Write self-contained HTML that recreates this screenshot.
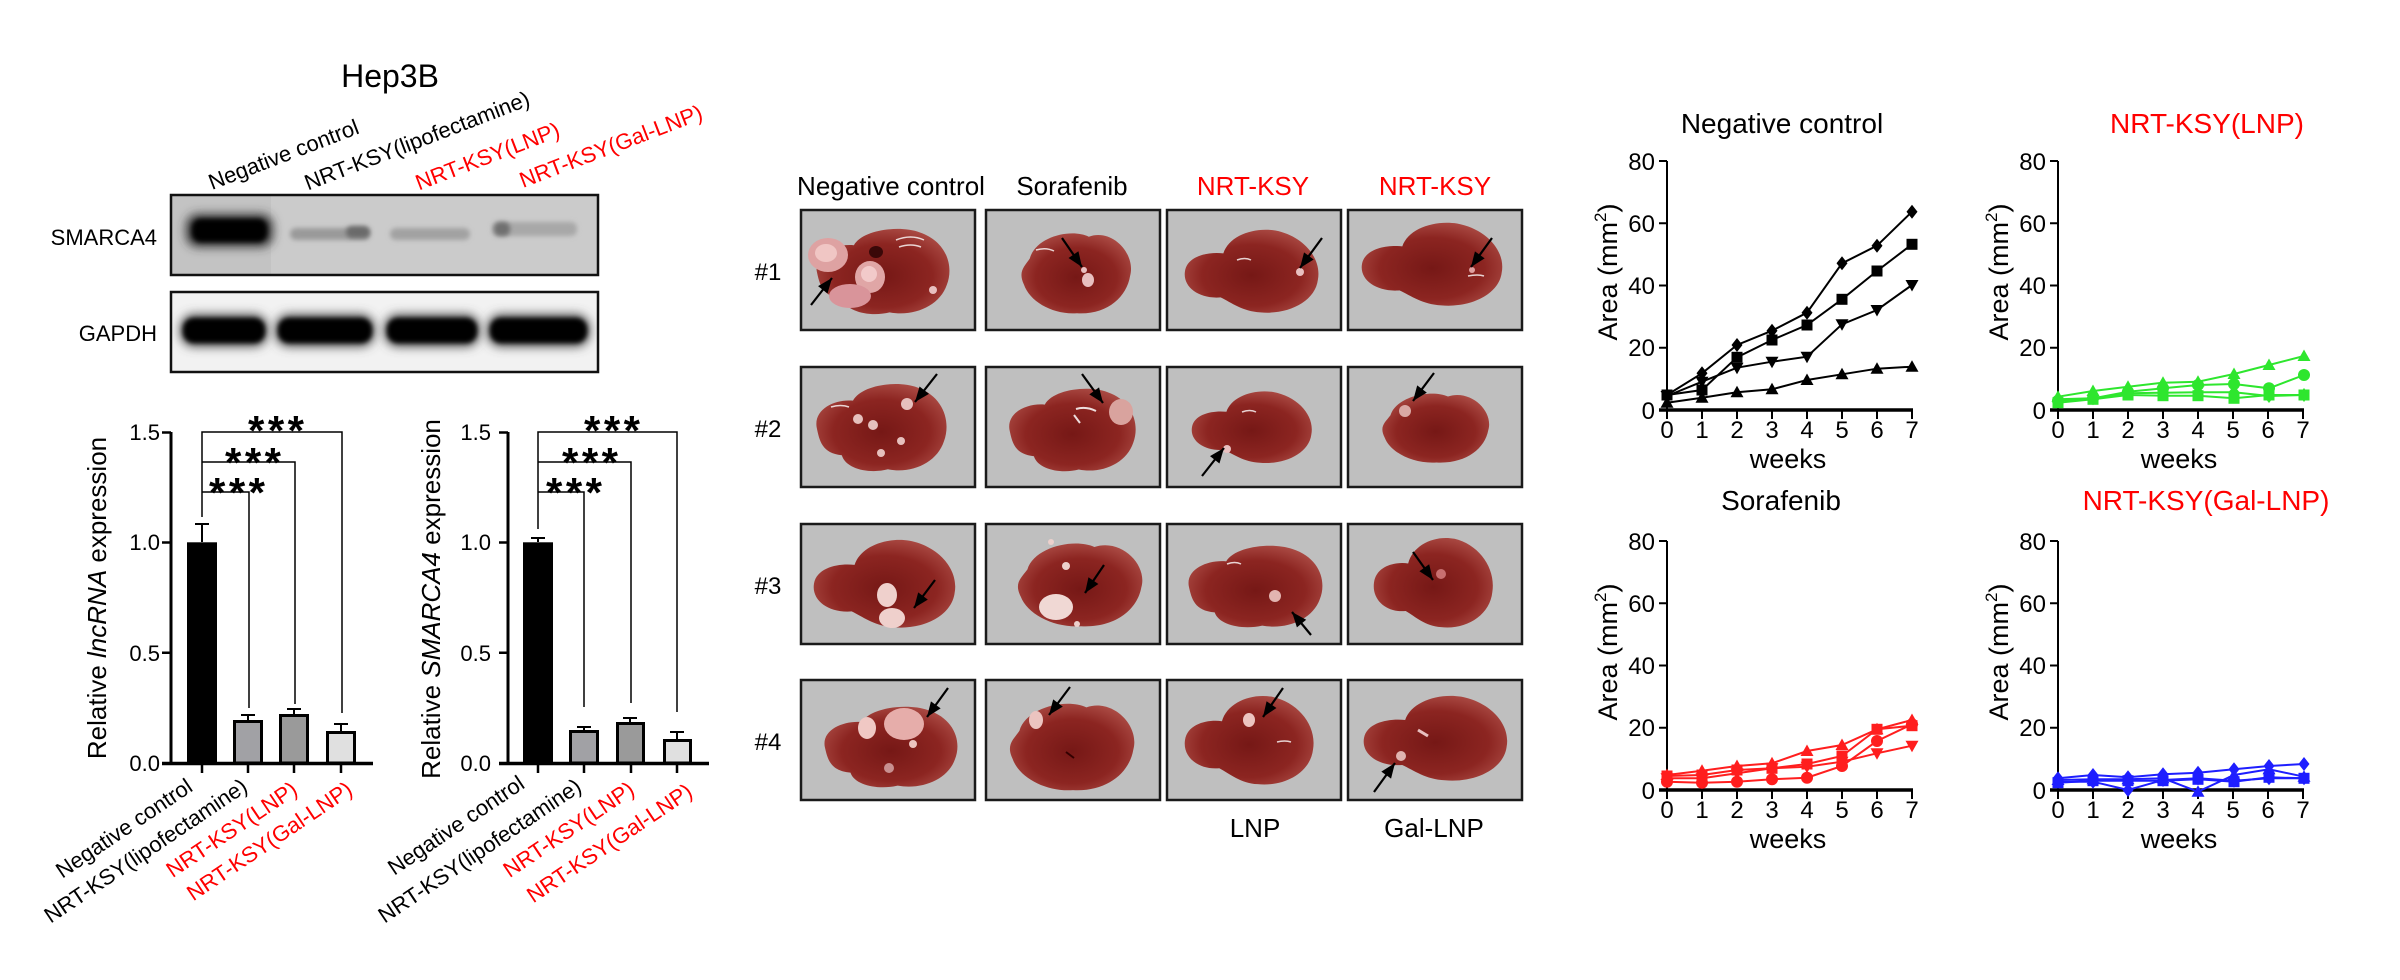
<!DOCTYPE html>
<html><head><meta charset="utf-8">
<style>
html,body{margin:0;padding:0;background:#fff;}
svg{display:block;}
text{font-family:"Liberation Sans",Arial,sans-serif;}
</style></head><body>
<svg width="2400" height="980" viewBox="0 0 2400 980" xmlns="http://www.w3.org/2000/svg">
<defs>
 <filter id="bl2" x="-30%" y="-60%" width="160%" height="220%"><feGaussianBlur stdDeviation="2.5"/></filter>
 <filter id="bl5" x="-30%" y="-80%" width="160%" height="260%"><feGaussianBlur stdDeviation="5"/></filter>
 <clipPath id="cb1"><rect x="171" y="195" width="427" height="80"/></clipPath>
 <clipPath id="cb2"><rect x="171" y="292" width="427" height="80"/></clipPath>
 <radialGradient id="liv" cx="0.5" cy="0.55" r="0.62">
   <stop offset="0" stop-color="#761816"/><stop offset="0.6" stop-color="#8c2521"/><stop offset="1" stop-color="#b0514a"/>
 </radialGradient>
 <path id="S1" d="M0.04,0.5 C0.02,0.3 0.18,0.2 0.3,0.22 C0.36,0.05 0.62,0.0 0.76,0.08 C0.95,0.18 1.0,0.45 0.95,0.65 C0.9,0.88 0.72,1.0 0.55,0.95 C0.42,1.0 0.25,0.95 0.22,0.8 C0.08,0.78 0.06,0.65 0.04,0.5Z"/>
 <path id="S2" d="M0.1,0.35 C0.15,0.1 0.45,0.0 0.6,0.1 C0.8,0.0 1.0,0.3 0.95,0.55 C0.92,0.8 0.75,1.0 0.5,0.98 C0.3,1.0 0.1,0.85 0.05,0.65 C0.0,0.5 0.05,0.45 0.1,0.35Z"/>
 <path id="S3" d="M0.0,0.5 C0.02,0.32 0.18,0.28 0.28,0.3 C0.32,0.1 0.5,0.0 0.66,0.04 C0.86,0.1 1.0,0.35 0.97,0.6 C0.95,0.85 0.75,1.0 0.55,0.97 C0.42,0.96 0.34,0.86 0.26,0.8 C0.1,0.82 -0.02,0.68 0.0,0.5Z"/>
 <marker id="ah" markerUnits="userSpaceOnUse" markerWidth="16" markerHeight="12" refX="15" refY="6" orient="auto" overflow="visible"><path d="M0,0L15,6L0,12z" fill="#000"/></marker>
 <marker id="Kdi" markerUnits="userSpaceOnUse" markerWidth="20" markerHeight="20" refX="10" refY="10" overflow="visible"><path d="M10,3L15.5,10L10,17L4.5,10z" fill="#000"/></marker>
 <marker id="Ksq" markerUnits="userSpaceOnUse" markerWidth="20" markerHeight="20" refX="10" refY="10" overflow="visible"><path d="M4.5,4.5h11v11h-11z" fill="#000"/></marker>
 <marker id="Kut" markerUnits="userSpaceOnUse" markerWidth="20" markerHeight="20" refX="10" refY="10" overflow="visible"><path d="M10,3.5L16.5,15L3.5,15z" fill="#000"/></marker>
 <marker id="Kdt" markerUnits="userSpaceOnUse" markerWidth="20" markerHeight="20" refX="10" refY="10" overflow="visible"><path d="M10,16.5L16.5,5L3.5,5z" fill="#000"/></marker>
 <marker id="Gdi" markerUnits="userSpaceOnUse" markerWidth="20" markerHeight="20" refX="10" refY="10" overflow="visible"><path d="M10,3L15.5,10L10,17L4.5,10z" fill="#2ee62e"/></marker>
 <marker id="Gsq" markerUnits="userSpaceOnUse" markerWidth="20" markerHeight="20" refX="10" refY="10" overflow="visible"><path d="M4.5,4.5h11v11h-11z" fill="#2ee62e"/></marker>
 <marker id="Gut" markerUnits="userSpaceOnUse" markerWidth="20" markerHeight="20" refX="10" refY="10" overflow="visible"><path d="M10,3.5L16.5,15L3.5,15z" fill="#2ee62e"/></marker>
 <marker id="Gci" markerUnits="userSpaceOnUse" markerWidth="20" markerHeight="20" refX="10" refY="10" overflow="visible"><circle cx="10" cy="10" r="6" fill="#2ee62e"/></marker>
 <marker id="Rut" markerUnits="userSpaceOnUse" markerWidth="20" markerHeight="20" refX="10" refY="10" overflow="visible"><path d="M10,3.5L16.5,15L3.5,15z" fill="#ff1e1e"/></marker>
 <marker id="Rsq" markerUnits="userSpaceOnUse" markerWidth="20" markerHeight="20" refX="10" refY="10" overflow="visible"><path d="M4.5,4.5h11v11h-11z" fill="#ff1e1e"/></marker>
 <marker id="Rci" markerUnits="userSpaceOnUse" markerWidth="20" markerHeight="20" refX="10" refY="10" overflow="visible"><circle cx="10" cy="10" r="6" fill="#ff1e1e"/></marker>
 <marker id="Rdt" markerUnits="userSpaceOnUse" markerWidth="20" markerHeight="20" refX="10" refY="10" overflow="visible"><path d="M10,16.5L16.5,5L3.5,5z" fill="#ff1e1e"/></marker>
 <marker id="Bdi" markerUnits="userSpaceOnUse" markerWidth="20" markerHeight="20" refX="10" refY="10" overflow="visible"><path d="M10,3L15.5,10L10,17L4.5,10z" fill="#1e1eff"/></marker>
 <marker id="Bsq" markerUnits="userSpaceOnUse" markerWidth="20" markerHeight="20" refX="10" refY="10" overflow="visible"><path d="M4.5,4.5h11v11h-11z" fill="#1e1eff"/></marker>
 <marker id="But" markerUnits="userSpaceOnUse" markerWidth="20" markerHeight="20" refX="10" refY="10" overflow="visible"><path d="M10,3.5L16.5,15L3.5,15z" fill="#1e1eff"/></marker>
</defs>
<rect width="2400" height="980" fill="#fff"/>

<!-- ================= WESTERN BLOT ================= -->
<text x="390" y="87" font-size="32" text-anchor="middle">Hep3B</text>
<text font-size="22" transform="translate(212,190) rotate(-21)">Negative control</text>
<text font-size="22" transform="translate(308,190.5) rotate(-21)">NRT-KSY(lipofectamine)</text>
<text font-size="22" fill="#ff0000" transform="translate(419,190.5) rotate(-21)">NRT-KSY(LNP)</text>
<text font-size="22" fill="#ff0000" transform="translate(523,188) rotate(-21)">NRT-KSY(Gal-LNP)</text>

<text x="157" y="245" font-size="22" text-anchor="end">SMARCA4</text>
<text x="157" y="341" font-size="22" text-anchor="end">GAPDH</text>

<rect x="171" y="195" width="427" height="80" fill="#cbcbcb"/>
<g clip-path="url(#cb1)">
 <rect x="171" y="195" width="100" height="80" fill="#c3c3c3"/>
 <rect x="186" y="214" width="87" height="33" rx="12" fill="#333" filter="url(#bl5)"/>
 <rect x="192" y="219" width="75" height="23" rx="9" fill="#000" filter="url(#bl2)"/>
 <rect x="290" y="228" width="80" height="12" rx="6" fill="#9a9a9a" filter="url(#bl2)"/>
 <rect x="346" y="226" width="24" height="12" rx="6" fill="#6a6a6a" filter="url(#bl2)"/>
 <rect x="390" y="228" width="80" height="12" rx="6" fill="#a2a2a2" filter="url(#bl2)"/>
 <rect x="492" y="222" width="85" height="14" rx="6" fill="#a8a8a8" filter="url(#bl2)"/>
 <rect x="494" y="222" width="16" height="14" rx="6" fill="#707070" filter="url(#bl2)"/>
</g>
<rect x="171" y="195" width="427" height="80" fill="none" stroke="#111" stroke-width="2.5"/>

<rect x="171" y="292" width="427" height="80" fill="#f2f2f2"/>
<g clip-path="url(#cb2)">
 <rect x="180" y="314" width="88" height="33" rx="14" fill="#555" filter="url(#bl5)"/>
 <rect x="275" y="314" width="100" height="33" rx="14" fill="#555" filter="url(#bl5)"/>
 <rect x="384" y="314" width="96" height="33" rx="14" fill="#555" filter="url(#bl5)"/>
 <rect x="487" y="314" width="103" height="33" rx="14" fill="#555" filter="url(#bl5)"/>
 <rect x="183" y="318" width="82" height="25" rx="11" fill="#000" filter="url(#bl2)"/>
 <rect x="278" y="318" width="94" height="25" rx="11" fill="#000" filter="url(#bl2)"/>
 <rect x="387" y="318" width="90" height="25" rx="11" fill="#000" filter="url(#bl2)"/>
 <rect x="490" y="318" width="97" height="25" rx="11" fill="#000" filter="url(#bl2)"/>
</g>
<rect x="171" y="292" width="427" height="80" fill="none" stroke="#111" stroke-width="2.5"/>

<!-- ================= BAR CHART 1 ================= -->
<g font-size="22" text-anchor="end">
 <text x="160" y="440">1.5</text><text x="160" y="550">1.0</text><text x="160" y="661">0.5</text><text x="160" y="771">0.0</text>
</g>
<text font-size="26" text-anchor="middle" transform="translate(106,598) rotate(-90)">Relative <tspan font-style="italic">lncRNA</tspan> expression</text>
<g stroke="#000" fill="none">
 <path d="M171,432V764" stroke-width="3"/>
 <path d="M162,432.5H171M162,542.5H171M162,652.7H171" stroke-width="2.5"/>
 <path d="M162,763.5H373" stroke-width="3.5"/>
 <path d="M202,763V773M248,763V773M294,763V773M341,763V773" stroke-width="2.5"/>
</g>
<rect x="188.5" y="543.8" width="27" height="219" fill="#000" stroke="#000" stroke-width="3"/>
<rect x="234.5" y="721.5" width="27" height="41.5" fill="#a1a1a5" stroke="#000" stroke-width="3"/>
<rect x="280.5" y="715.5" width="27" height="47.5" fill="#9a9a9a" stroke="#000" stroke-width="3"/>
<rect x="327.5" y="732.5" width="27" height="30.5" fill="#e0e0e0" stroke="#000" stroke-width="3"/>
<g stroke="#000" stroke-width="2" fill="none">
 <path d="M202,542V524M195,524H209"/>
 <path d="M248,720V715M241,715H255"/>
 <path d="M294,714V709M287,709H301"/>
 <path d="M341,731V724M334,724H348"/>
</g>
<g stroke="#000" stroke-width="1.5" fill="none">
 <path d="M202,517V432H342V713"/>
 <path d="M202,462H295V704"/>
 <path d="M202,492H249V708"/>
</g>
<g font-size="42" font-weight="bold" text-anchor="middle">
 <text x="276" y="445" textLength="56" lengthAdjust="spacing">***</text>
 <text x="253" y="477" textLength="56" lengthAdjust="spacing">***</text>
 <text x="237" y="507" textLength="56" lengthAdjust="spacing">***</text>
</g>
<g font-size="22" text-anchor="end">
 <text transform="translate(194,790) rotate(-34)">Negative control</text>
 <text transform="translate(249,790) rotate(-34)">NRT-KSY(lipofectamine)</text>
 <text fill="#ff0000" transform="translate(299,793) rotate(-34)">NRT-KSY(LNP)</text>
 <text fill="#ff0000" transform="translate(354,793) rotate(-34)">NRT-KSY(Gal-LNP)</text>
</g>

<!-- ================= BAR CHART 2 ================= -->
<g font-size="22" text-anchor="end">
 <text x="491" y="440">1.5</text><text x="491" y="550">1.0</text><text x="491" y="661">0.5</text><text x="491" y="771">0.0</text>
</g>
<text font-size="26" text-anchor="middle" transform="translate(440,599) rotate(-90)">Relative <tspan font-style="italic">SMARCA4</tspan> expression</text>
<g stroke="#000" fill="none">
 <path d="M508,432V764" stroke-width="3"/>
 <path d="M499,432.5H508M499,542.5H508M499,652.7H508" stroke-width="2.5"/>
 <path d="M499,763.5H709" stroke-width="3.5"/>
 <path d="M538,763V773M584,763V773M631,763V773M677,763V773" stroke-width="2.5"/>
</g>
<rect x="524.5" y="543.8" width="27" height="219" fill="#000" stroke="#000" stroke-width="3"/>
<rect x="570.5" y="731.5" width="27" height="31.5" fill="#a1a1a5" stroke="#000" stroke-width="3"/>
<rect x="617.5" y="723.5" width="26" height="39.5" fill="#9a9a9a" stroke="#000" stroke-width="3"/>
<rect x="664.5" y="740.5" width="26" height="22.5" fill="#e0e0e0" stroke="#000" stroke-width="3"/>
<g stroke="#000" stroke-width="2" fill="none">
 <path d="M538,542V538M531,538H545"/>
 <path d="M584,730V727M577,727H591"/>
 <path d="M630,722V718M623,718H637"/>
 <path d="M677,739V732M670,732H684"/>
</g>
<g stroke="#000" stroke-width="1.5" fill="none">
 <path d="M538,529V432H677V712"/>
 <path d="M538,462H631V703"/>
 <path d="M538,492H584V707"/>
</g>
<g font-size="42" font-weight="bold" text-anchor="middle">
 <text x="612" y="445" textLength="56" lengthAdjust="spacing">***</text>
 <text x="590" y="477" textLength="56" lengthAdjust="spacing">***</text>
 <text x="574" y="507" textLength="56" lengthAdjust="spacing">***</text>
</g>
<g font-size="22" text-anchor="end">
 <text transform="translate(526,787) rotate(-34)">Negative control</text>
 <text transform="translate(583,790) rotate(-34)">NRT-KSY(lipofectamine)</text>
 <text fill="#ff0000" transform="translate(636,793) rotate(-34)">NRT-KSY(LNP)</text>
 <text fill="#ff0000" transform="translate(694,795) rotate(-34)">NRT-KSY(Gal-LNP)</text>
</g>

<!-- ================= LIVER PHOTOS ================= -->
<g font-size="26" text-anchor="middle">
 <text x="891" y="195">Negative control</text>
 <text x="1072" y="195">Sorafenib</text>
 <text x="1253" y="195" fill="#ff0000">NRT-KSY</text>
 <text x="1435" y="195" fill="#ff0000">NRT-KSY</text>
 <text x="1255" y="837">LNP</text>
 <text x="1434" y="837">Gal-LNP</text>
</g>
<g font-size="24" text-anchor="middle">
 <text x="768" y="280">#1</text>
 <text x="768" y="437">#2</text>
 <text x="768" y="594">#3</text>
 <text x="768" y="750">#4</text>
</g>

<!-- Row 1 -->
<g transform="translate(801,210)">
 <rect width="174" height="120" fill="#bfbfbf" stroke="#1a1a1a" stroke-width="2.5"/>
 <use href="#S1" transform="translate(10,15) scale(143,92)" fill="url(#liv)"/>
 <ellipse cx="75" cy="42" rx="7" ry="6" fill="#3a0808"/>
 <ellipse cx="27" cy="45" rx="20" ry="17" fill="#dea2a2"/><ellipse cx="25" cy="43" rx="11" ry="9" fill="#f0c6c4"/>
 <ellipse cx="69" cy="67" rx="15" ry="16" fill="#e0a6a6"/><ellipse cx="68" cy="64" rx="8" ry="8" fill="#f2caca"/>
 <ellipse cx="49" cy="86" rx="21" ry="12" fill="#d9949a"/>
 <circle cx="132" cy="80" r="4" fill="#e8c0c0"/>
 <path d="M95,30q15,-6 28,0M98,37q12,-4 22,0" stroke="#fff" stroke-width="1.5" fill="none" opacity=".8"/>
 <line x1="10" y1="95" x2="31" y2="68" stroke="#000" stroke-width="2.2" marker-end="url(#ah)"/>
</g>
<g transform="translate(986,210)">
 <rect width="174" height="120" fill="#bfbfbf" stroke="#1a1a1a" stroke-width="2.5"/>
 <use href="#S2" transform="translate(32,18) scale(118,87)" fill="url(#liv)"/>
 <ellipse cx="102" cy="70" rx="6" ry="7" fill="#e8c0c0"/><circle cx="98" cy="60" r="3" fill="#e8c0c0"/>
 <path d="M50,40q10,-3 18,1" stroke="#fff" stroke-width="1.5" fill="none" opacity=".8"/>
 <line x1="76" y1="28" x2="96" y2="57" stroke="#000" stroke-width="2.2" marker-end="url(#ah)"/>
</g>
<g transform="translate(1167,210)">
 <rect width="174" height="120" fill="#bfbfbf" stroke="#1a1a1a" stroke-width="2.5"/>
 <use href="#S3" transform="translate(18,17) scale(137,88)" fill="url(#liv)"/>
 <circle cx="133" cy="62" r="4" fill="#e8c0c0"/>
 <path d="M70,50q8,-3 14,0" stroke="#fff" stroke-width="1.5" fill="none" opacity=".8"/>
 <line x1="155" y1="28" x2="133" y2="58" stroke="#000" stroke-width="2.2" marker-end="url(#ah)"/>
</g>
<g transform="translate(1348,210)">
 <rect width="174" height="120" fill="#bfbfbf" stroke="#1a1a1a" stroke-width="2.5"/>
 <use href="#S3" transform="translate(14,10) scale(144,88)" fill="url(#liv)"/>
 <circle cx="124" cy="60" r="3" fill="#e0a0a0"/>
 <path d="M120,66q10,-2 16,0" stroke="#fff" stroke-width="1.5" fill="none" opacity=".8"/>
 <line x1="144" y1="28" x2="123" y2="57" stroke="#000" stroke-width="2.2" marker-end="url(#ah)"/>
</g>
<!-- Row 2 -->
<g transform="translate(801,367)">
 <rect width="174" height="120" fill="#bfbfbf" stroke="#1a1a1a" stroke-width="2.5"/>
 <use href="#S1" transform="translate(10,13) scale(140,94)" fill="url(#liv)"/>
 <circle cx="57" cy="52" r="5" fill="#e6c0bd"/><circle cx="72" cy="58" r="5" fill="#e6c0bd"/>
 <circle cx="106" cy="37" r="6" fill="#e6c0bd"/><circle cx="100" cy="74" r="4" fill="#e6c0bd"/><circle cx="80" cy="86" r="4" fill="#e6c0bd"/>
 <path d="M30,40q10,-3 18,0" stroke="#fff" stroke-width="1.5" fill="none" opacity=".8"/>
 <line x1="136" y1="7" x2="114" y2="35" stroke="#000" stroke-width="2.2" marker-end="url(#ah)"/>
</g>
<g transform="translate(986,367)">
 <rect width="174" height="120" fill="#bfbfbf" stroke="#1a1a1a" stroke-width="2.5"/>
 <use href="#S1" transform="translate(18,18) scale(136,89)" fill="url(#liv)"/>
 <ellipse cx="135" cy="45" rx="12" ry="13" fill="#d9a39e"/>
 <path d="M90,42q10,-3 20,2M88,48l6,8" stroke="#fff" stroke-width="2" fill="none" opacity=".85"/>
 <line x1="96" y1="7" x2="117" y2="36" stroke="#000" stroke-width="2.2" marker-end="url(#ah)"/>
</g>
<g transform="translate(1167,367)">
 <rect width="174" height="120" fill="#bfbfbf" stroke="#1a1a1a" stroke-width="2.5"/>
 <use href="#S3" transform="translate(25,22) scale(123,76)" fill="url(#liv)"/>
 <circle cx="60" cy="82" r="4" fill="#e8c0c0"/>
 <path d="M75,45q8,-3 14,0" stroke="#fff" stroke-width="1.5" fill="none" opacity=".8"/>
 <line x1="35" y1="109" x2="57" y2="81" stroke="#000" stroke-width="2.2" marker-end="url(#ah)"/>
</g>
<g transform="translate(1348,367)">
 <rect width="174" height="120" fill="#bfbfbf" stroke="#1a1a1a" stroke-width="2.5"/>
 <use href="#S2" transform="translate(31,22) scale(115,75)" fill="url(#liv)"/>
 <circle cx="57" cy="44" r="6" fill="#d9a8a4"/>
 <line x1="86" y1="6" x2="65" y2="34" stroke="#000" stroke-width="2.2" marker-end="url(#ah)"/>
</g>
<!-- Row 3 -->
<g transform="translate(801,524)">
 <rect width="174" height="120" fill="#bfbfbf" stroke="#1a1a1a" stroke-width="2.5"/>
 <use href="#S3" transform="translate(13,13) scale(145,93)" fill="url(#liv)"/>
 <ellipse cx="86" cy="71" rx="10" ry="12" fill="#efd0cc"/>
 <ellipse cx="91" cy="94" rx="13" ry="10" fill="#efd0cc"/>
 <line x1="134" y1="56" x2="113" y2="84" stroke="#000" stroke-width="2.2" marker-end="url(#ah)"/>
</g>
<g transform="translate(986,524)">
 <rect width="174" height="120" fill="#bfbfbf" stroke="#1a1a1a" stroke-width="2.5"/>
 <use href="#S2" transform="translate(28,14) scale(134,90)" fill="url(#liv)"/>
 <ellipse cx="70" cy="83" rx="17" ry="13" fill="#f0d8d4"/>
 <circle cx="80" cy="42" r="4" fill="#ecd0cc"/><circle cx="65" cy="18" r="3" fill="#ecd0cc"/><circle cx="91" cy="100" r="3" fill="#ecd0cc"/>
 <line x1="118" y1="41" x2="99" y2="69" stroke="#000" stroke-width="2.2" marker-end="url(#ah)"/>
</g>
<g transform="translate(1167,524)">
 <rect width="174" height="120" fill="#bfbfbf" stroke="#1a1a1a" stroke-width="2.5"/>
 <use href="#S1" transform="translate(16,18) scale(144,88)" fill="url(#liv)"/>
 <circle cx="108" cy="72" r="6" fill="#e2b4b0"/>
 <path d="M60,40q8,-3 14,0" stroke="#fff" stroke-width="1.5" fill="none" opacity=".8"/>
 <line x1="144" y1="111" x2="125" y2="88" stroke="#000" stroke-width="2.2" marker-end="url(#ah)"/>
</g>
<g transform="translate(1348,524)">
 <rect width="174" height="120" fill="#bfbfbf" stroke="#1a1a1a" stroke-width="2.5"/>
 <use href="#S3" transform="translate(26,11) scale(122,95)" fill="url(#liv)"/>
 <circle cx="93" cy="50" r="5" fill="#c87070"/>
 <line x1="65" y1="28" x2="85" y2="56" stroke="#000" stroke-width="2.2" marker-end="url(#ah)"/>
</g>
<!-- Row 4 -->
<g transform="translate(801,680)">
 <rect width="174" height="120" fill="#bfbfbf" stroke="#1a1a1a" stroke-width="2.5"/>
 <use href="#S1" transform="translate(18,23) scale(143,87)" fill="url(#liv)"/>
 <ellipse cx="103" cy="44" rx="20" ry="16" fill="#e6adaa"/>
 <ellipse cx="66" cy="48" rx="9" ry="11" fill="#f0c8c4"/>
 <circle cx="112" cy="64" r="4" fill="#ecc4c0"/><circle cx="88" cy="88" r="5" fill="#c89090"/>
 <line x1="147" y1="8" x2="126" y2="37" stroke="#000" stroke-width="2.2" marker-end="url(#ah)"/>
</g>
<g transform="translate(986,680)">
 <rect width="174" height="120" fill="#bfbfbf" stroke="#1a1a1a" stroke-width="2.5"/>
 <use href="#S2" transform="translate(20,18) scale(134,94)" fill="url(#liv)"/>
 <ellipse cx="50" cy="40" rx="7" ry="9" fill="#ecc4c0"/>
 <path d="M80,72l8,6" stroke="#300" stroke-width="2"/>
 <line x1="84" y1="7" x2="63" y2="35" stroke="#000" stroke-width="2.2" marker-end="url(#ah)"/>
</g>
<g transform="translate(1167,680)">
 <rect width="174" height="120" fill="#bfbfbf" stroke="#1a1a1a" stroke-width="2.5"/>
 <use href="#S3" transform="translate(18,13) scale(132,94)" fill="url(#liv)"/>
 <ellipse cx="82" cy="40" rx="6" ry="7" fill="#ecc4c0"/>
 <path d="M110,62q8,-2 14,0" stroke="#fff" stroke-width="1.5" fill="none" opacity=".8"/>
 <line x1="116" y1="8" x2="96" y2="37" stroke="#000" stroke-width="2.2" marker-end="url(#ah)"/>
</g>
<g transform="translate(1348,680)">
 <rect width="174" height="120" fill="#bfbfbf" stroke="#1a1a1a" stroke-width="2.5"/>
 <use href="#S3" transform="translate(16,13) scale(147,90)" fill="url(#liv)"/>
 <circle cx="53" cy="76" r="5" fill="#e0b4b0"/>
 <path d="M70,50l10,6" stroke="#e8c0c0" stroke-width="3"/>
 <line x1="26" y1="112" x2="47" y2="83" stroke="#000" stroke-width="2.2" marker-end="url(#ah)"/>
</g>

<!-- ================= LINE CHARTS ================= -->
<g font-size="28" text-anchor="middle">
 <text x="1782" y="133">Negative control</text>
 <text x="2207" y="133" fill="#ff0000">NRT-KSY(LNP)</text>
 <text x="1781" y="510">Sorafenib</text>
 <text x="2206" y="510" fill="#ff0000">NRT-KSY(Gal-LNP)</text>
</g>

<g>
 <g stroke="#000" fill="none">
  <path d="M1667,161V411" stroke-width="2"/>
  <path d="M1659,161H1667M1659,223.3H1667M1659,285.5H1667M1659,347.8H1667" stroke-width="2"/>
  <path d="M1659,410H1913" stroke-width="3.5"/>
  <path d="M1667,410V419M1702,410V419M1737,410V419M1772,410V419M1807,410V419M1842,410V419M1877,410V419M1912,410V419" stroke-width="2"/>
 </g>
 <g font-size="24" text-anchor="end">
  <text x="1655" y="170">80</text><text x="1655" y="232">60</text><text x="1655" y="294">40</text><text x="1655" y="356">20</text><text x="1655" y="419">0</text>
 </g>
 <g font-size="24" text-anchor="middle">
  <text x="1667" y="438">0</text><text x="1702" y="438">1</text><text x="1737" y="438">2</text><text x="1772" y="438">3</text><text x="1807" y="438">4</text><text x="1842" y="438">5</text><text x="1877" y="438">6</text><text x="1912" y="438">7</text>
 </g>
 <text x="1788" y="468" font-size="27" text-anchor="middle">weeks</text>
 <text font-size="27" text-anchor="middle" transform="translate(1617,272) rotate(-90)">Area (mm<tspan font-size="17" dy="-11">2</tspan><tspan dy="11">)</tspan></text>
</g>
<g transform="translate(391,0)">
 <g stroke="#000" fill="none">
  <path d="M1667,161V411" stroke-width="2"/>
  <path d="M1659,161H1667M1659,223.3H1667M1659,285.5H1667M1659,347.8H1667" stroke-width="2"/>
  <path d="M1659,410H1913" stroke-width="3.5"/>
  <path d="M1667,410V419M1702,410V419M1737,410V419M1772,410V419M1807,410V419M1842,410V419M1877,410V419M1912,410V419" stroke-width="2"/>
 </g>
 <g font-size="24" text-anchor="end">
  <text x="1655" y="170">80</text><text x="1655" y="232">60</text><text x="1655" y="294">40</text><text x="1655" y="356">20</text><text x="1655" y="419">0</text>
 </g>
 <g font-size="24" text-anchor="middle">
  <text x="1667" y="438">0</text><text x="1702" y="438">1</text><text x="1737" y="438">2</text><text x="1772" y="438">3</text><text x="1807" y="438">4</text><text x="1842" y="438">5</text><text x="1877" y="438">6</text><text x="1912" y="438">7</text>
 </g>
 <text x="1788" y="468" font-size="27" text-anchor="middle">weeks</text>
 <text font-size="27" text-anchor="middle" transform="translate(1617,272) rotate(-90)">Area (mm<tspan font-size="17" dy="-11">2</tspan><tspan dy="11">)</tspan></text>
</g>
<g transform="translate(0,380)">
 <g stroke="#000" fill="none">
  <path d="M1667,161V411" stroke-width="2"/>
  <path d="M1659,161H1667M1659,223.3H1667M1659,285.5H1667M1659,347.8H1667" stroke-width="2"/>
  <path d="M1659,410H1913" stroke-width="3.5"/>
  <path d="M1667,410V419M1702,410V419M1737,410V419M1772,410V419M1807,410V419M1842,410V419M1877,410V419M1912,410V419" stroke-width="2"/>
 </g>
 <g font-size="24" text-anchor="end">
  <text x="1655" y="170">80</text><text x="1655" y="232">60</text><text x="1655" y="294">40</text><text x="1655" y="356">20</text><text x="1655" y="419">0</text>
 </g>
 <g font-size="24" text-anchor="middle">
  <text x="1667" y="438">0</text><text x="1702" y="438">1</text><text x="1737" y="438">2</text><text x="1772" y="438">3</text><text x="1807" y="438">4</text><text x="1842" y="438">5</text><text x="1877" y="438">6</text><text x="1912" y="438">7</text>
 </g>
 <text x="1788" y="468" font-size="27" text-anchor="middle">weeks</text>
 <text font-size="27" text-anchor="middle" transform="translate(1617,272) rotate(-90)">Area (mm<tspan font-size="17" dy="-11">2</tspan><tspan dy="11">)</tspan></text>
</g>
<g transform="translate(391,380)">
 <g stroke="#000" fill="none">
  <path d="M1667,161V411" stroke-width="2"/>
  <path d="M1659,161H1667M1659,223.3H1667M1659,285.5H1667M1659,347.8H1667" stroke-width="2"/>
  <path d="M1659,410H1913" stroke-width="3.5"/>
  <path d="M1667,410V419M1702,410V419M1737,410V419M1772,410V419M1807,410V419M1842,410V419M1877,410V419M1912,410V419" stroke-width="2"/>
 </g>
 <g font-size="24" text-anchor="end">
  <text x="1655" y="170">80</text><text x="1655" y="232">60</text><text x="1655" y="294">40</text><text x="1655" y="356">20</text><text x="1655" y="419">0</text>
 </g>
 <g font-size="24" text-anchor="middle">
  <text x="1667" y="438">0</text><text x="1702" y="438">1</text><text x="1737" y="438">2</text><text x="1772" y="438">3</text><text x="1807" y="438">4</text><text x="1842" y="438">5</text><text x="1877" y="438">6</text><text x="1912" y="438">7</text>
 </g>
 <text x="1788" y="468" font-size="27" text-anchor="middle">weeks</text>
 <text font-size="27" text-anchor="middle" transform="translate(1617,272) rotate(-90)">Area (mm<tspan font-size="17" dy="-11">2</tspan><tspan dy="11">)</tspan></text>
</g>

<g fill="none" stroke="#000" stroke-width="2">
 <polyline points="1667,402.7 1702,397.7 1737,392.3 1772,389.3 1807,380 1842,374.3 1877,368.7 1912,366.7" marker-start="url(#Kut)" marker-mid="url(#Kut)" marker-end="url(#Kut)"/>
 <polyline points="1667,396 1702,381.7 1737,367.7 1772,361.7 1807,356.7 1842,324.3 1877,310 1912,285" marker-start="url(#Kdt)" marker-mid="url(#Kdt)" marker-end="url(#Kdt)"/>
 <polyline points="1667,395 1702,390 1737,357.3 1772,340 1807,325 1842,299.3 1877,271 1912,244.3" marker-start="url(#Ksq)" marker-mid="url(#Ksq)" marker-end="url(#Ksq)"/>
 <polyline points="1667,395 1702,373.3 1737,345 1772,330.7 1807,312.7 1842,263.3 1877,245.7 1912,211.7" marker-start="url(#Kdi)" marker-mid="url(#Kdi)" marker-end="url(#Kdi)"/>
</g>
<g fill="none" stroke="#2ee62e" stroke-width="2">
 <polyline points="2058,402.7 2093,399.3 2128,395 2163,395.7 2198,395.7 2234,398.3 2269,395 2304,395" marker-start="url(#Gsq)" marker-mid="url(#Gsq)" marker-end="url(#Gsq)"/>
 <polyline points="2058,399.3 2093,398.3 2128,393.3 2163,392.7 2198,392.3 2234,392.3 2269,396 2304,395" marker-start="url(#Gdi)" marker-mid="url(#Gdi)" marker-end="url(#Gdi)"/>
 <polyline points="2058,400.7 2093,398.3 2128,391.7 2163,388.3 2198,385 2234,384 2269,388.3 2304,375" marker-start="url(#Gci)" marker-mid="url(#Gci)" marker-end="url(#Gci)"/>
 <polyline points="2058,396.7 2093,391 2128,386.7 2163,382.7 2198,381.7 2234,374 2269,365 2304,356" marker-start="url(#Gut)" marker-mid="url(#Gut)" marker-end="url(#Gut)"/>
</g>
<g fill="none" stroke="#ff1e1e" stroke-width="2">
 <polyline points="1667,781.7 1702,782.7 1737,781.7 1772,779.3 1807,777.7 1842,766 1877,741 1912,724.3" marker-start="url(#Rci)" marker-mid="url(#Rci)" marker-end="url(#Rci)"/>
 <polyline points="1667,778.3 1702,778.3 1737,773.3 1772,768.3 1807,766.7 1842,761.7 1877,753.3 1912,745.7" marker-start="url(#Rdt)" marker-mid="url(#Rdt)" marker-end="url(#Rdt)"/>
 <polyline points="1667,776 1702,775 1737,770 1772,768.3 1807,764 1842,756 1877,729.3 1912,725.7" marker-start="url(#Rsq)" marker-mid="url(#Rsq)" marker-end="url(#Rsq)"/>
 <polyline points="1667,775 1702,770.7 1737,766 1772,763.3 1807,751 1842,745 1877,729.3 1912,720" marker-start="url(#Rut)" marker-mid="url(#Rut)" marker-end="url(#Rut)"/>
</g>
<g fill="none" stroke="#1e1eff" stroke-width="2">
 <polyline points="2058,782.7 2093,780.7 2128,780.7 2163,780.7 2198,779.3 2234,781.7 2269,777.3 2304,778.3" marker-start="url(#Bsq)" marker-mid="url(#Bsq)" marker-end="url(#Bsq)"/>
 <polyline points="2058,781.7 2093,781.7 2128,790 2163,780 2198,778.3 2234,780.7 2269,778.3 2304,778.3" marker-start="url(#Bdi)" marker-mid="url(#Bdi)" marker-end="url(#Bdi)"/>
 <polyline points="2058,780 2093,779.3 2128,779.3 2163,778.3 2198,791.7 2234,775 2269,769.3 2304,776.7" marker-start="url(#But)" marker-mid="url(#But)" marker-end="url(#But)"/>
 <polyline points="2058,778.3 2093,775 2128,777.3 2163,774.3 2198,772.7 2234,769.3 2269,766 2304,764" marker-start="url(#Bdi)" marker-mid="url(#Bdi)" marker-end="url(#Bdi)"/>
</g>
</svg>
</body></html>
